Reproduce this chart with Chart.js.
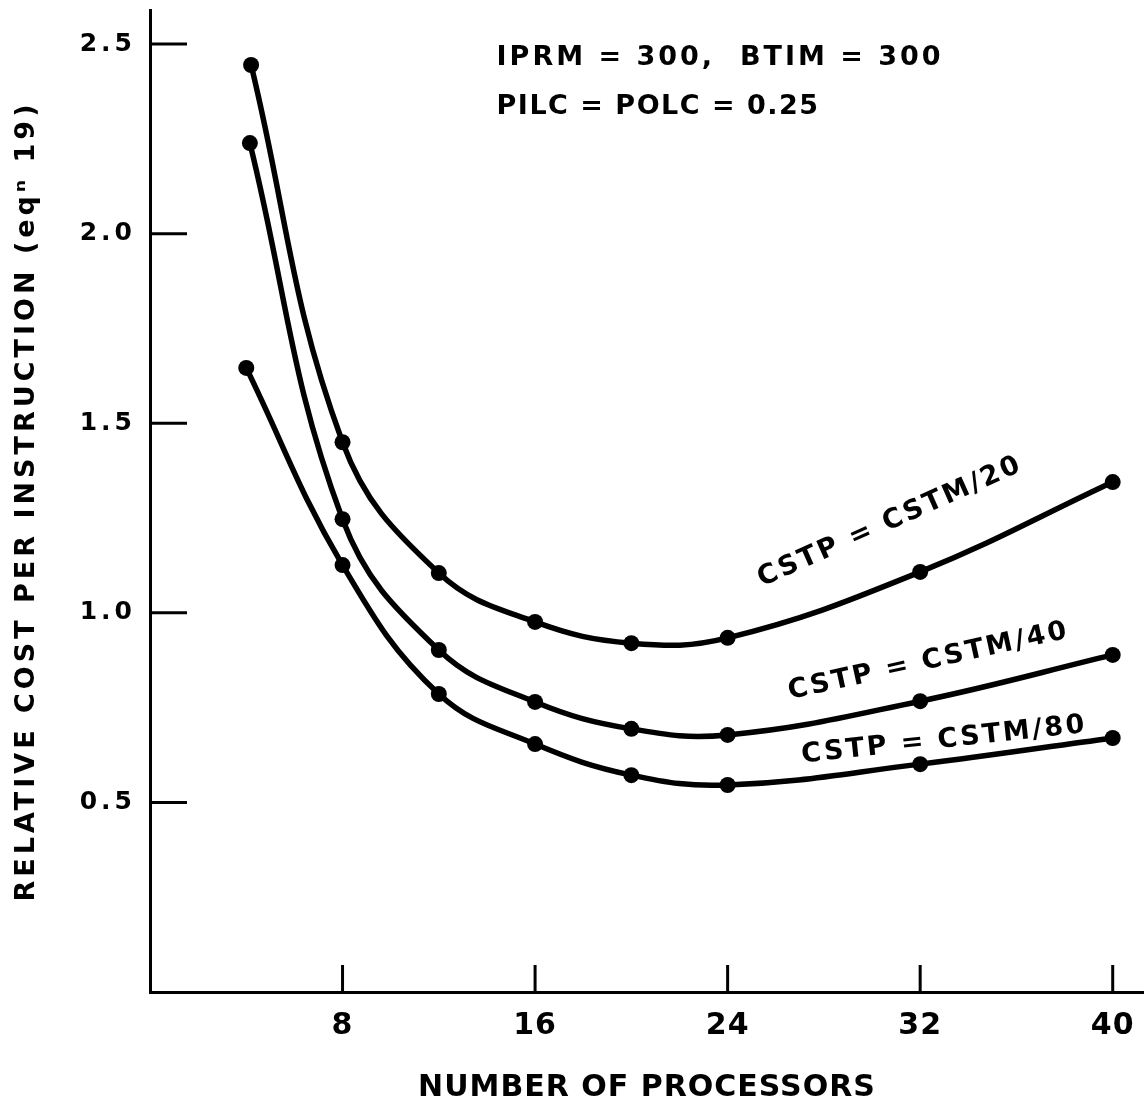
<!DOCTYPE html>
<html>
<head>
<meta charset="utf-8">
<script src="https://cdn.jsdelivr.net/npm/chart.js@4"></script>
<style>
  html, body { margin: 0; padding: 0; background: #fff; }
  #wrap { width: 1144px; height: 1110px; position: relative; }
</style>
</head>
<body>
<div id="wrap"><canvas id="costChart"></canvas></div>
<script>
// cost per instruction vs. number of processors, one curve per CSTP ratio
const procs20 = [4.2, 8, 12, 16, 20, 24, 32, 40];
const cost20 = [2.445, 1.45, 1.105, 0.976, 0.92, 0.934, 1.108, 1.345];
const procs40 = [4.15, 8, 12, 16, 20, 24, 32, 40];
const cost40 = [2.239, 1.247, 0.902, 0.765, 0.694, 0.678, 0.767, 0.889];
const procs80 = [4, 8, 12, 16, 20, 24, 32, 40];
const cost80 = [1.646, 1.126, 0.786, 0.654, 0.572, 0.546, 0.601, 0.67];

const seriesNames = ['CSTP = CSTM/20', 'CSTP = CSTM/40', 'CSTP = CSTM/80'];
const xTicks = [8, 16, 24, 32, 40];
const yTicks = [0.5, 1.0, 1.5, 2.0, 2.5];
const notes = ['IPRM = 300,  BTIM = 300', 'PILC = POLC = 0.25'];

const FONT = "'DejaVu Sans', sans-serif";

// where the curve names and the parameter notes sit, in data units
const curveLabels = [
  { text: seriesNames[0], x: 30.75, y: 1.24, angle: -24 },
  { text: seriesNames[1], x: 32.35, y: 0.872, angle: -12.4 },
  { text: seriesNames[2], x: 33.0, y: 0.664, angle: -6.1 },
];
const noteSpots = [
  { x: 14.4, y: 2.464, spacing: '3px' },
  { x: 14.4, y: 2.335, spacing: '1.5px' },
];

const pts = (xs, ys) => xs.map((x, i) => ({ x: x, y: ys[i] }));

function curve(name, xs, ys) {
  return {
    label: name,
    data: pts(xs, ys),
    borderColor: '#000',
    backgroundColor: '#000',
    borderWidth: 5.5,
    pointRadius: 8,
    pointBackgroundColor: '#000',
    pointBorderWidth: 0,
    tension: 0.4,
    clip: false,
  };
}

const drawExtras = {
  id: 'drawExtras',
  beforeDraw(chart) {
    // y axis text is drawn before the datasets, wide lettering
    chart.ctx.letterSpacing = '4px';
  },
  afterDatasetsDraw(chart) {
    const ctx = chart.ctx;
    const xs = chart.scales.x, ys = chart.scales.y;
    const y0 = ys.getPixelForValue(0), x0 = xs.getPixelForValue(0);

    // tick marks point into the plot
    ctx.save();
    ctx.strokeStyle = '#000';
    ctx.lineWidth = 3;
    ctx.beginPath();
    yTicks.forEach(v => {
      const p = ys.getPixelForValue(v);
      ctx.moveTo(x0, p);
      ctx.lineTo(x0 + 37, p);
    });
    xTicks.forEach(v => {
      const p = xs.getPixelForValue(v);
      ctx.moveTo(p, y0);
      ctx.lineTo(p, y0 - 27);
    });
    ctx.stroke();
    ctx.restore();

    ctx.save();
    ctx.fillStyle = '#000';
    ctx.font = 'bold 27px ' + FONT;
    ctx.letterSpacing = '2.5px';
    ctx.textAlign = 'center';
    ctx.textBaseline = 'middle';
    curveLabels.forEach(l => {
      ctx.save();
      ctx.translate(xs.getPixelForValue(l.x), ys.getPixelForValue(l.y));
      ctx.rotate(l.angle * Math.PI / 180);
      ctx.fillText(l.text, 0, 0);
      ctx.restore();
    });
    ctx.textAlign = 'left';
    notes.forEach((t, i) => {
      const n = noteSpots[i];
      ctx.letterSpacing = n.spacing;
      ctx.fillText(t, xs.getPixelForValue(n.x), ys.getPixelForValue(n.y));
    });
    ctx.restore();

    // x axis text comes after this hook (z = 1), tighter lettering
    ctx.letterSpacing = '1px';
  }
};

new Chart(document.getElementById('costChart'), {
  type: 'line',
  data: {
    datasets: [
      curve(seriesNames[0], procs20, cost20),
      curve(seriesNames[1], procs40, cost40),
      curve(seriesNames[2], procs80, cost80),
    ]
  },
  options: {
    responsive: true,
    maintainAspectRatio: false,
    animation: false,
    events: [],
    layout: { autoPadding: false, padding: { top: 10, right: 0, bottom: 0, left: 0 } },
    plugins: {
      legend: { display: false },
      tooltip: { enabled: false },
    },
    scales: {
      x: {
        type: 'linear',
        min: 0,
        max: 41.3,
        afterBuildTicks: s => { s.ticks = xTicks.map(v => ({ value: v })); },
        afterFit: s => { s.height = 118; s.paddingLeft = 0; s.paddingRight = 0; },
        grid: { display: false, drawTicks: false, z: 1 },
        border: { color: '#000', width: 3, z: 1 },
        ticks: {
          z: 1,
          color: '#000',
          padding: 16,
          maxRotation: 0,
          autoSkip: false,
          font: { family: FONT, size: 30, weight: 'bold' },
        },
        title: {
          display: true,
          text: 'NUMBER OF PROCESSORS',
          color: '#000',
          padding: { top: 0, bottom: 4 },
          font: { family: FONT, size: 30, weight: 'bold' },
        },
      },
      y: {
        min: 0,
        max: 2.59,
        afterBuildTicks: s => { s.ticks = yTicks.map(v => ({ value: v })); },
        afterFit: s => { s.width = 150; s.paddingTop = 0; s.paddingBottom = 0; },
        grid: { display: false, drawTicks: false },
        border: { color: '#000', width: 3 },
        ticks: {
          color: '#000',
          padding: 14,
          callback: v => v.toFixed(1),
          font: { family: FONT, size: 25, weight: 'bold' },
        },
        title: {
          display: true,
          text: 'RELATIVE COST PER INSTRUCTION (eqⁿ 19)',
          color: '#000',
          padding: { top: 11, bottom: 0 },
          font: { family: FONT, size: 27, weight: 'bold' },
        },
      },
    },
  },
  plugins: [drawExtras],
});
</script>
</body>
</html>
